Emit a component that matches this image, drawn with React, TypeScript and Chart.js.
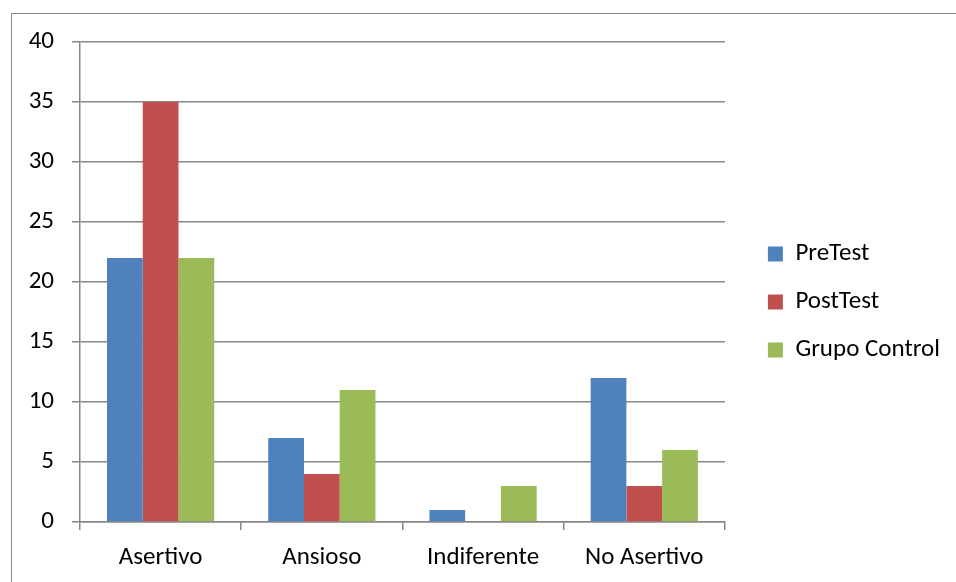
import React, { useEffect, useRef } from "react";
import { Chart, registerables } from "chart.js";

Chart.register(...registerables);

const categories = ["Asertivo", "Ansioso", "Indiferente", "No Asertivo"];
const preTest = [22, 7, 1, 12];
const postTest = [35, 4, 0, 3];
const grupoControl = [22, 11, 3, 6];
const seriesNames = ["PreTest", "PostTest", "Grupo Control"];
const seriesColors = ["#4F81BD", "#C0504D", "#9BBB59"];

const FONT = "Carlito, Lato, 'Liberation Sans', sans-serif";
const FS = 25;
const GRID = "#878787";

const legendShift = {
  id: "legendShift",
  afterLayout(chart: any) {
    if (chart.legend) {
      chart.legend.bottom -= 20;
    }
  },
};

export default function App() {
  const ref = useRef<HTMLCanvasElement | null>(null);

  useEffect(() => {
    document.body.style.overflow = "hidden";
    const canvas = ref.current!;
    let chart: Chart | null = null;
    let cancelled = false;
    const build = () => {
      if (cancelled) return;
      chart = new Chart(canvas, {
        type: "bar",
        data: {
          labels: categories,
          datasets: [preTest, postTest, grupoControl].map((d, i) => ({
            label: seriesNames[i],
            data: d,
            backgroundColor: seriesColors[i],
            borderWidth: 0,
            barPercentage: 1,
            categoryPercentage: 0.665,
            yAxisID: "y",
          })),
        },
        plugins: [legendShift],
        options: {
          responsive: false,
          animation: false,
          layout: { padding: { top: 42, left: 0, right: 6, bottom: 0 } },
          plugins: {
            tooltip: { enabled: false },
            legend: {
              position: "right",
              maxWidth: 400,
              labels: {
                boxWidth: 15,
                boxHeight: 15,
                padding: 23,
                color: "#000",
                font: { family: FONT, size: FS },
              },
            },
          },
          scales: {
            x: {
              offset: true,
              grid: {
                offset: true,
                drawOnChartArea: false,
                drawTicks: true,
                tickLength: 8,
                color: GRID,
                lineWidth: 1.5,
              },
              border: { color: GRID, width: 1.5 },
              ticks: {
                color: "#000",
                padding: 13,
                font: { family: FONT, size: FS },
                maxRotation: 0,
              },
              afterFit: (s: any) => {
                s.height = 60;
              },
            },
            y: {
              min: 0,
              max: 40,
              ticks: {
                stepSize: 5,
                color: "#000",
                padding: 18,
                font: { family: FONT, size: FS },
              },
              grid: {
                color: GRID,
                lineWidth: 1.5,
                tickLength: 8,
              },
              border: { color: GRID, width: 1.5 },
              afterFit: (s: any) => {
                s.width = 80;
              },
            },
            ySpacer: {
              position: "right",
              min: 0,
              max: 40,
              grid: { display: false, drawTicks: false },
              border: { display: false },
              ticks: { display: false },
              afterFit: (s: any) => {
                s.width = 20;
              },
            },
          },
        },
      } as any);
    };
    const fontsApi = (document as any).fonts;
    if (fontsApi && fontsApi.load) {
      fontsApi.load(`${FS}px Carlito`).then(build, build);
    } else {
      build();
    }
    return () => {
      cancelled = true;
      if (chart) chart.destroy();
    };
  }, []);

  return (
    <>
      <div
        style={{
          position: "absolute",
          left: 11,
          top: 13,
          width: 1000,
          height: 700,
          border: "1.5px solid #878787",
          boxSizing: "border-box",
        }}
      />
      <canvas
        ref={ref}
        width={956}
        height={582}
        style={{ position: "absolute", left: 0, top: 0, width: 956, height: 582 }}
      />
    </>
  );
}
